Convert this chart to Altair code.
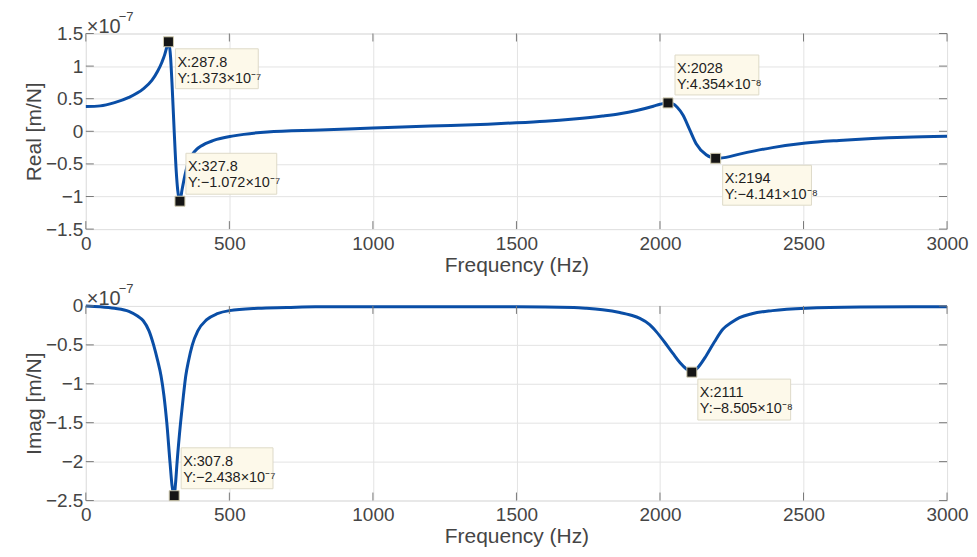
import altair as alt
import pandas as pd

# ---- data (values in units of 1e-7 m/N) ----
freq_real = [0, 50, 100, 150, 200, 230, 250, 265, 275, 282, 287.8, 295, 300, 307.8, 315, 320, 327.8,
             335, 345, 355, 370, 385, 400, 445, 515, 632, 817, 1000, 1200, 1400, 1500, 1600, 1700,
             1800, 1860, 1919, 1977, 2000, 2028, 2045, 2060, 2080, 2103, 2126, 2161, 2194, 2230, 2277, 2330,
             2392, 2508, 2624, 2740, 2855, 3000]
real_vals = [0.38, 0.39, 0.44, 0.52, 0.65, 0.78, 0.92, 1.06, 1.18, 1.29, 1.373, 1.15, 0.75, 0.0, -0.62, -0.9, -1.072,
             -0.9, -0.68, -0.5, -0.36, -0.28, -0.23, -0.14, -0.07, -0.01, 0.02, 0.05, 0.08, 0.11, 0.13, 0.155, 0.19,
             0.235, 0.27, 0.32, 0.385, 0.415, 0.4354, 0.42, 0.37, 0.25, 0.03, -0.19, -0.36, -0.4141, -0.40, -0.35, -0.30,
             -0.25, -0.18, -0.14, -0.11, -0.09, -0.077]

freq_imag = [0, 50, 100, 150, 180, 200, 220, 236, 250, 262, 272, 282, 293, 300, 307.8, 312, 318, 330, 340, 348,
             358, 371, 390, 420, 458, 500, 600, 700, 800, 1000, 1200, 1500, 1700, 1744, 1800, 1860, 1900,
             1930, 1964, 1987, 2015, 2045, 2070, 2092, 2111, 2130, 2161, 2190, 2219, 2250, 2277, 2320,
             2392, 2508, 2700, 3000]
imag_vals = [0.0, -0.01, -0.03, -0.07, -0.13, -0.19, -0.32, -0.5, -0.7, -0.9, -1.15, -1.5, -2.0, -2.3, -2.438, -2.3, -2.0,
             -1.5, -1.15, -0.9, -0.7, -0.5, -0.32, -0.18, -0.1, -0.06, -0.03, -0.02, -0.01, -0.01, -0.01, -0.01, -0.02,
             -0.03, -0.05, -0.085, -0.12, -0.16, -0.24, -0.33, -0.46, -0.61, -0.73, -0.81, -0.8505, -0.80, -0.64, -0.46,
             -0.30, -0.21, -0.15, -0.10, -0.06, -0.03, -0.015, -0.01]

x_ticks = [0, 500, 1000, 1500, 2000, 2500, 3000]
real_ticks = [-1.5, -1, -0.5, 0, 0.5, 1, 1.5]
imag_ticks = [-2.5, -2, -1.5, -1, -0.5, 0]

# data tips
real_tip_x = [287.8, 327.8, 2028, 2194]
real_tip_y = [1.373, -1.072, 0.4354, -0.4141]
real_tip_l1 = ["X:287.8", "X:327.8", "X:2028", "X:2194"]
real_tip_l2 = ["Y:1.373×10⁻⁷", "Y:−1.072×10⁻⁷", "Y:4.354×10⁻⁸", "Y:−4.141×10⁻⁸"]
imag_tip_x = [307.8, 2111]
imag_tip_y = [-2.438, -0.8505]
imag_tip_l1 = ["X:307.8", "X:2111"]
imag_tip_l2 = ["Y:−2.438×10⁻⁷", "Y:−8.505×10⁻⁸"]

# ---- styling ----
W = 863
FONT = "Liberation Sans"
LINE = "#0a4ea6"
AX = "#7a7a7a"
TXT = "#454545"
# box pixel offsets relative to marker: (x0, x1, y0, y1)
real_box = [(7, 90, 7, 47), (6, 97, -48, -7), (7, 91, -48, -8), (7, 96, 7, 47)]
imag_box = [(7, 99, -48, -7), (6, 99, 7, 48)]


def panel(freqs, vals, ticks, ydom, ytitle, tx, ty, l1, l2, boxes, h):
    df = pd.DataFrame({"f": freqs, "v": vals})
    common = dict(grid=True, gridColor="#e3e3e3", domain=False, ticks=False,
                  labelFontSize=19, titleFontSize=21, labelColor=TXT, titleColor=TXT,
                  titleFontWeight="normal", labelFont=FONT, titleFont=FONT,
                  labelOverlap=False, labelFlush=False)
    xscale = alt.Scale(domain=[0, 3000], nice=False)
    yscale = alt.Scale(domain=ydom, nice=False)
    xs = alt.X("f:Q", scale=xscale,
               axis=alt.Axis(values=x_ticks, format="d", title="Frequency (Hz)",
                             labelPadding=5, titlePadding=1, **common))
    ys = alt.Y("v:Q", scale=yscale,
               axis=alt.Axis(values=ticks, format="~g", title=ytitle,
                             labelPadding=3, titlePadding=1, **common))
    line = alt.Chart(df).mark_line(color=LINE, strokeWidth=3, interpolate="monotone").encode(x=xs, y=ys)

    xt = pd.DataFrame({"f": x_ticks})
    yt = pd.DataFrame({"v": ticks})
    tk = dict(color=AX, strokeWidth=1)
    t_top = alt.Chart(xt).mark_rule(**tk).encode(x=xs, y=alt.value(0), y2=alt.value(8))
    t_bot = alt.Chart(xt).mark_rule(**tk).encode(x=xs, y=alt.value(h - 8), y2=alt.value(h))
    t_left = alt.Chart(yt).mark_rule(**tk).encode(y=ys, x=alt.value(0), x2=alt.value(8))
    t_right = alt.Chart(yt).mark_rule(**tk).encode(y=ys, x=alt.value(W - 8), x2=alt.value(W))

    exp1 = alt.Chart(pd.DataFrame({"a": [0]})).mark_text(
        align="left", baseline="alphabetic", fontSize=20, font=FONT, color=TXT).encode(
        x=alt.value(1), y=alt.value(-1), text=alt.value("×10"))
    exp2 = alt.Chart(pd.DataFrame({"a": [0]})).mark_text(
        align="left", baseline="alphabetic", fontSize=13, font=FONT, color=TXT).encode(
        x=alt.value(33), y=alt.value(-13), text=alt.value("−7"))

    layers = [line, t_top, t_bot, t_left, t_right, exp1, exp2]
    for i in range(len(tx)):
        d = pd.DataFrame({"f": [tx[i]], "v": [ty[i]], "a": [l1[i]], "b": [l2[i]]})
        x0, x1, y0, y1 = boxes[i]
        base = alt.Chart(d)
        layers.append(base.mark_rect(fill="#fdf9ea", stroke="#dedac8", strokeWidth=1,
                                     xOffset=x0, x2Offset=x1, yOffset=y0, y2Offset=y1).encode(
            x=xs, x2="f:Q", y=ys, y2="v:Q"))
        layers.append(base.mark_text(align="left", baseline="alphabetic", fontSize=14.5, font=FONT,
                                     color="#1e1e1e", dx=x0 + 2, dy=y0 + 18).encode(
            x=xs, y=ys, text="a:N"))
        layers.append(base.mark_text(align="left", baseline="alphabetic", fontSize=14.5, font=FONT,
                                     color="#1e1e1e", dx=x0 + 2, dy=y0 + 34).encode(
            x=xs, y=ys, text="b:N"))
        layers.append(base.mark_square(size=100, color="#151515", stroke="#cfc9ad",
                                       strokeWidth=1, opacity=1).encode(x=xs, y=ys))
    return alt.layer(*layers).properties(width=W, height=h)


top = panel(freq_real, real_vals, real_ticks, [-1.5, 1.5], "Real [m/N]",
            real_tip_x, real_tip_y, real_tip_l1, real_tip_l2, real_box, 196)
bot = panel(freq_imag, imag_vals, imag_ticks, [-2.5, 0], "Imag [m/N]",
            imag_tip_x, imag_tip_y, imag_tip_l1, imag_tip_l2, imag_box, 195)

chart = alt.vconcat(top, bot, spacing=6).configure_view(
    stroke=AX, strokeWidth=1).configure_axis(labelOverlap=False).configure(
    padding={"left": 14, "right": 0, "top": 1, "bottom": 0})

chart.save("out.html", embed_options={"renderer": "svg", "actions": False})
